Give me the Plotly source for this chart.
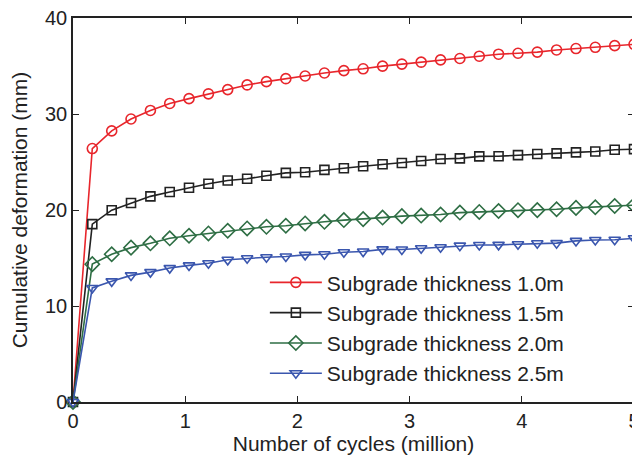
import plotly.graph_objects as go

cycles = [0, 0.172, 0.345, 0.517, 0.690, 0.862, 1.034, 1.207, 1.379, 1.552,
          1.724, 1.897, 2.069, 2.241, 2.414, 2.586, 2.759, 2.931, 3.103, 3.276,
          3.448, 3.621, 3.793, 3.966, 4.138, 4.310, 4.483, 4.655, 4.828, 5.0]

def_10 = [0, 26.4, 28.24, 29.48, 30.37, 31.1, 31.6, 32.1, 32.54, 33.03,
          33.37, 33.68, 33.96, 34.27, 34.52, 34.71, 34.99, 35.2, 35.4, 35.64,
          35.78, 36.02, 36.23, 36.33, 36.45, 36.67, 36.82, 36.95, 37.12, 37.26]
def_15 = [0, 18.53, 19.98, 20.73, 21.42, 21.87, 22.31, 22.73, 23.08, 23.25,
          23.56, 23.87, 23.94, 24.18, 24.35, 24.56, 24.76, 24.9, 25.1, 25.31,
          25.38, 25.59, 25.6, 25.72, 25.83, 25.9, 26.0, 26.1, 26.28, 26.34]
def_20 = [0, 14.36, 15.39, 16.08, 16.53, 17.05, 17.32, 17.56, 17.84, 18.08,
          18.25, 18.36, 18.6, 18.77, 18.95, 19.05, 19.21, 19.36, 19.42, 19.53,
          19.73, 19.8, 19.9, 19.98, 19.99, 20.08, 20.22, 20.29, 20.42, 20.5]
def_25 = [0, 11.88, 12.57, 13.19, 13.53, 13.95, 14.23, 14.46, 14.81, 14.98,
          15.08, 15.15, 15.33, 15.39, 15.6, 15.67, 15.9, 15.88, 16.01, 16.12,
          16.29, 16.36, 16.37, 16.43, 16.53, 16.55, 16.78, 16.88, 16.9, 17.05]

names = ["Subgrade thickness 1.0m", "Subgrade thickness 1.5m",
         "Subgrade thickness 2.0m", "Subgrade thickness 2.5m"]
series = [def_10, def_15, def_20, def_25]
colors = ["#E8262C", "#222222", "#2E6E44", "#3A56AE"]
symbols = ["circle-open", "square-open", "diamond-open", "triangle-down-open"]
sizes = [10, 9, 11, 10]

fig = go.Figure()
for name, ys, c, s, sz in zip(names, series, colors, symbols, sizes):
    fig.add_trace(go.Scatter(
        x=cycles, y=ys, name=name, mode="lines+markers",
        line=dict(color=c, width=1.6),
        marker=dict(symbol=s, size=sz, color=c, line=dict(color=c, width=1.6)),
        cliponaxis=False,
    ))

font = "Liberation Sans, Arial, sans-serif"
fs = 20
axis_common = dict(
    showline=True, linecolor="#222222", linewidth=1.5, mirror="allticks",
    ticks="inside", ticklen=6, tickwidth=1, tickcolor="#222222",
    showgrid=False, zeroline=False, automargin=False,
    tickfont=dict(family=font, size=fs, color="#222222"),
)
fig.update_xaxes(range=[0, 5], tickvals=[0, 1, 2, 3, 4, 5],
                 ticklabeloverflow="allow",
                 title=dict(text="Number of cycles (million)", standoff=2,
                            font=dict(family=font, size=21, color="#222222")),
                 **axis_common)
fig.update_yaxes(range=[0, 40], tickvals=[0, 10, 20, 30, 40],
                 ticklabeloverflow="allow",
                 title=dict(text="Cumulative deformation (mm)", standoff=14,
                            font=dict(family=font, size=21, color="#222222")),
                 **axis_common)

fig.update_layout(
    width=632, height=456,
    margin=dict(l=65, r=6, t=10, b=62),
    plot_bgcolor="white", paper_bgcolor="white",
    showlegend=True,
    legend=dict(x=0.342, y=0.364, xanchor="left", yanchor="top",
                bgcolor="rgba(255,255,255,0)", borderwidth=0,
                font=dict(family=font, size=21, color="#222222"),
                itemwidth=52, tracegroupgap=0),
)

fig.write_html("out.html")
